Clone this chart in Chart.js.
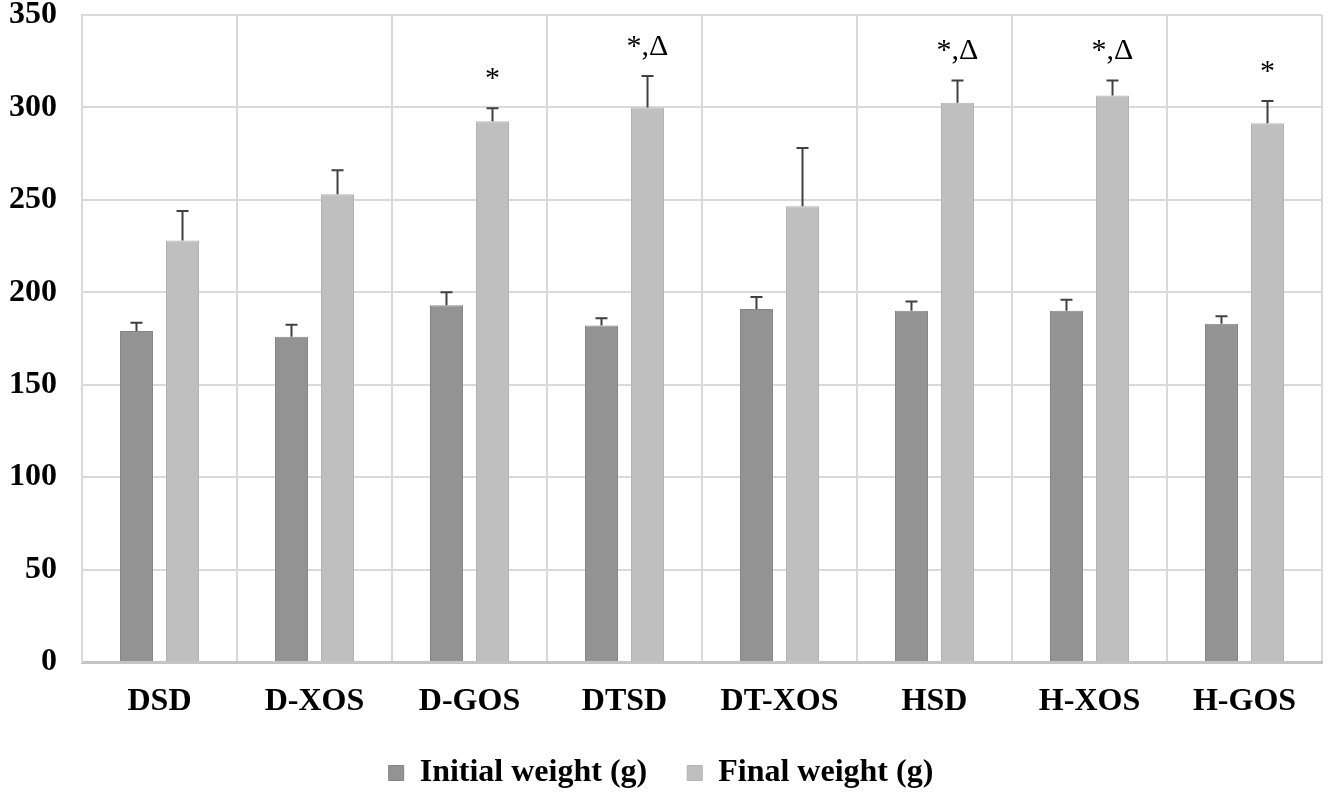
<!DOCTYPE html>
<html>
<head>
<meta charset="utf-8">
<script src="https://cdn.jsdelivr.net/npm/chart.js@4.4.0/dist/chart.umd.min.js"></script>
<style>
    body { margin: 0; background: #fff; }
    #wrap { width: 1328px; height: 793px; }
</style>
</head>
<body>
<div id="wrap"><canvas id="weightChart" width="1328" height="793"></canvas></div>
<script>
// Data
const groups = ['DSD', 'D-XOS', 'D-GOS', 'DTSD', 'DT-XOS', 'HSD', 'H-XOS', 'H-GOS'];
const initialWeight = [179, 176, 193, 182, 191, 190, 190, 183];
const initialErr = [4.5, 6.5, 7, 4, 6.5, 5, 6, 4];
const finalWeight = [228, 253, 292.5, 300, 246.5, 302.5, 306.5, 291.5];
const finalErr = [16, 13, 7, 17, 31.5, 12, 8, 12];
const marks = ['', '', '*', '*,Δ', '', '*,Δ', '*,Δ', '*'];
const yTicks = [0, 50, 100, 150, 200, 250, 300, 350];

const serif = '"Liberation Serif", "Times New Roman", serif';

// Error bars (upper half only) and significance marks
const errorBars = {
    id: 'errorBars',
    afterDatasetsDraw(chart) {
        const ctx = chart.ctx;
        const y = chart.scales.y;
        ctx.save();
        chart.data.datasets.forEach((ds, di) => {
            const meta = chart.getDatasetMeta(di);
            meta.data.forEach((bar, i) => {
                const top = y.getPixelForValue(ds.data[i]);
                const cap = y.getPixelForValue(ds.data[i] + ds.errors[i]);
                ctx.strokeStyle = '#404040';
                ctx.lineWidth = 2;
                ctx.beginPath();
                ctx.moveTo(bar.x, top);
                ctx.lineTo(bar.x, cap);
                ctx.moveTo(bar.x - 6, cap);
                ctx.lineTo(bar.x + 6, cap);
                ctx.stroke();
                if (ds.marks && ds.marks[i]) {
                    ctx.fillStyle = '#000';
                    ctx.font = '30px ' + serif;
                    ctx.textAlign = 'center';
                    ctx.textBaseline = 'bottom';
                    ctx.fillText(ds.marks[i], bar.x, cap - 14);
                }
            });
        });
        ctx.restore();
    }
};

new Chart(document.getElementById('weightChart'), {
    type: 'bar',
    data: {
        labels: groups,
        datasets: [
            {
                label: 'Initial weight (g)',
                data: initialWeight,
                errors: initialErr,
                backgroundColor: '#939393',
                borderColor: '#858585',
                borderWidth: 1,
                categoryPercentage: 0.594,
                barPercentage: 0.717
            },
            {
                label: 'Final weight (g)',
                data: finalWeight,
                errors: finalErr,
                marks: marks,
                backgroundColor: '#bfbfbf',
                borderColor: '#b3b3b3',
                borderWidth: 1,
                categoryPercentage: 0.594,
                barPercentage: 0.717
            }
        ]
    },
    options: {
        responsive: false,
        animation: false,
        layout: { padding: { top: 15, right: 6, left: 0, bottom: -6 } },
        plugins: {
            legend: {
                position: 'bottom',
                labels: {
                    color: '#000',
                    boxWidth: 15,
                    boxHeight: 15,
                    padding: 40,
                    font: { family: serif, size: 32, weight: 'bold' }
                }
            },
            tooltip: { enabled: false }
        },
        scales: {
            x: {
                grid: { color: '#d9d9d9', lineWidth: 2, offset: true, drawTicks: false },
                border: { color: '#c4c4c4', width: 3 },
                ticks: {
                    color: '#000',
                    padding: 21,
                    font: { family: serif, size: 32, weight: 'bold' }
                },
                afterFit(scale) { scale.height = 55; }
            },
            y: {
                min: 0,
                max: 350,
                afterBuildTicks(scale) { scale.ticks = yTicks.map(v => ({ value: v })); },
                grid: { color: '#d9d9d9', lineWidth: 2, drawTicks: false },
                border: { color: '#d9d9d9', width: 2 },
                ticks: {
                    color: '#000',
                    padding: 25,
                    font: { family: serif, size: 32, weight: 'bold' }
                },
                afterFit(scale) {
                    scale.width = 82;
                    scale.paddingTop = 0;
                    scale.paddingBottom = 0;
                }
            }
        }
    },
    plugins: [errorBars]
});
</script>
</body>
</html>
